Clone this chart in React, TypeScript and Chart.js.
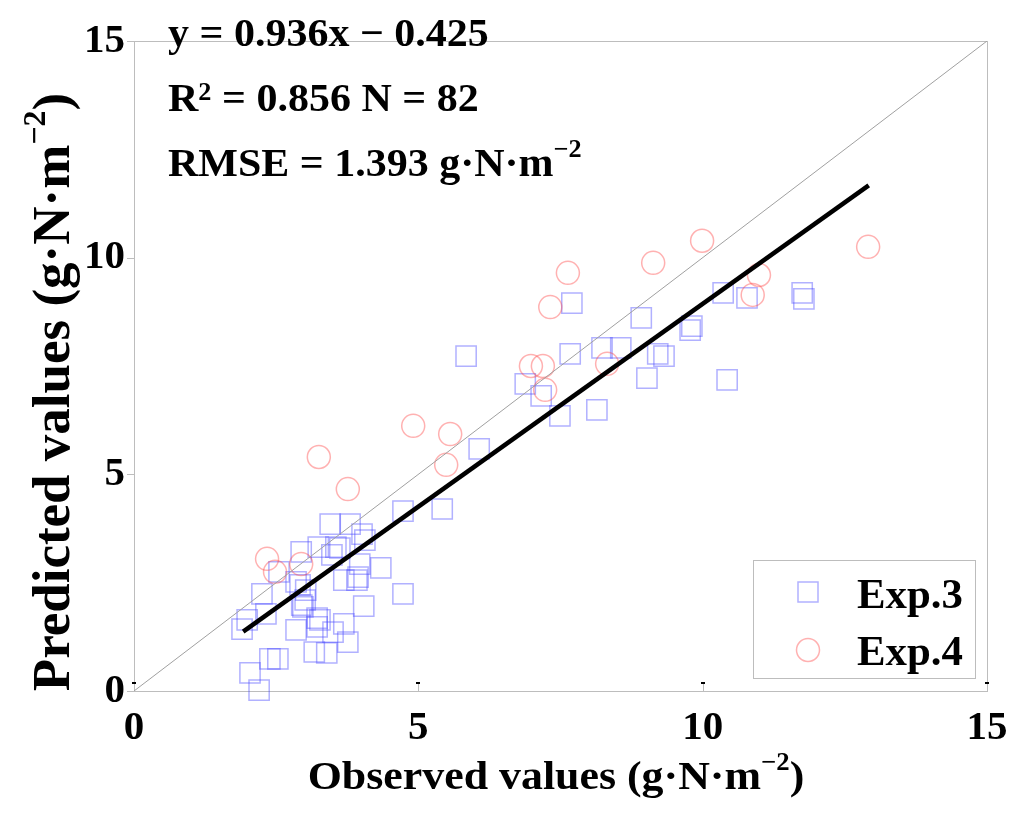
import React, { useEffect, useRef } from "react";
import { Chart, registerables } from "chart.js";

Chart.register(...registerables);

// ---- Data ----
const exp3X = [
  5.84, 7.67, 8.23, 8.56, 6.88, 7.16, 7.49, 8.14, 6.07, 5.42, 4.73, 7.70, 8.92, 10.36, 10.78, 11.75,
  11.78, 9.78, 9.81, 9.21, 9.32, 9.02, 10.43, 3.45, 3.80, 4.01, 4.06, 2.94, 3.24, 3.55, 3.48, 3.97,
  4.34, 3.69, 3.92, 3.94, 2.55, 2.92, 2.85, 3.01, 2.25, 2.32, 1.90, 1.99, 2.85, 2.97, 3.22, 3.22,
  3.50, 3.69, 3.76, 4.04, 4.73, 3.17, 3.39, 2.39, 2.53, 2.04, 2.20, 3.02, 2.95, 3.27, 3.62,
];
const exp3Y = [
  7.73, 7.78, 7.92, 7.92, 7.09, 6.81, 6.35, 6.49, 5.59, 4.20, 4.15, 8.95, 8.61, 9.19, 9.07, 9.19,
  9.05, 8.33, 8.42, 7.78, 7.73, 7.22, 7.18, 3.85, 3.85, 3.62, 3.48, 3.21, 3.32, 3.32, 3.14, 2.93,
  2.84, 2.56, 2.56, 2.63, 2.75, 2.45, 2.52, 2.10, 2.24, 1.78, 1.43, 1.64, 1.41, 1.94, 1.68, 1.48,
  1.36, 1.55, 1.13, 1.96, 2.24, 0.90, 0.88, 0.74, 0.74, 0.42, 0.02, 2.33, 1.98, 1.64, 3.30,
];
const exp4X = [
  2.34, 2.48, 2.94, 3.25, 3.76, 4.91, 5.56, 5.49, 6.98, 7.19, 7.23, 8.32, 7.63, 7.32, 9.13, 9.99,
  10.99, 10.88, 12.91,
];
const exp4Y = [
  3.05, 2.75, 2.93, 5.40, 4.66, 6.12, 5.93, 5.22, 7.50, 7.50, 6.95, 7.55, 9.65, 8.86, 9.88, 10.39,
  9.60, 9.14, 10.25,
];
const fitX = [1.92, 12.92];
const fitY = [1.37, 11.67];
const oneToOneX = [0, 15];
const oneToOneY = [0, 15];
const axisTicks = [0, 5, 10, 15];
const seriesNames = ["Exp.3", "Exp.4"];

const SERIF = '"Liberation Serif", "Times New Roman", serif';
const SQ_COLOR = "rgba(70,70,255,0.42)";
const CI_COLOR = "rgba(255,70,70,0.42)";

const toPts = (xs: number[], ys: number[]) => xs.map((x, i) => ({ x, y: ys[i] }));

type Seg = { t: string; size: number; dy?: number };

function segWidth(ctx: CanvasRenderingContext2D, segs: Seg[]) {
  let w = 0;
  for (const s of segs) {
    ctx.font = `bold ${s.size}px ${SERIF}`;
    w += ctx.measureText(s.t).width;
  }
  return w;
}

function drawSegs(ctx: CanvasRenderingContext2D, segs: Seg[], x: number, y: number, sx: number) {
  ctx.save();
  ctx.translate(x, y);
  ctx.scale(sx, 1);
  let cx = 0;
  for (const s of segs) {
    ctx.font = `bold ${s.size}px ${SERIF}`;
    ctx.fillText(s.t, cx, s.dy || 0);
    cx += ctx.measureText(s.t).width;
  }
  ctx.restore();
}

const overlay = {
  id: "overlay",
  beforeDatasetsDraw(chart: any) {
    const { ctx, chartArea } = chart;
    const { left, right, top, bottom } = chartArea;
    ctx.save();
    ctx.strokeStyle = "#bdbdbd";
    ctx.lineWidth = 1;
    ctx.strokeRect(left + 0.5, top + 0.5, right - left, bottom - top);
    const xs = chart.scales.x;
    const ys = chart.scales.y;
    for (const v of axisTicks) {
      const px = Math.round(xs.getPixelForValue(v)) + 0.5;
      ctx.beginPath();
      ctx.moveTo(px, bottom);
      ctx.lineTo(px, bottom - 9);
      ctx.stroke();
      const py = Math.round(ys.getPixelForValue(v)) + 0.5;
      ctx.beginPath();
      ctx.moveTo(left, py);
      ctx.lineTo(left - 7, py);
      ctx.stroke();
    }
    ctx.fillStyle = "#000";
    for (const v of axisTicks) {
      const px = Math.round(xs.getPixelForValue(v));
      ctx.fillRect(px - 2, bottom - 9, 4, 2);
    }
    ctx.restore();
  },
  afterDraw(chart: any) {
    const { ctx } = chart;
    ctx.save();
    ctx.fillStyle = "#000";
    ctx.textBaseline = "alphabetic";

    drawSegs(ctx, [{ t: "y = 0.936x \u2212 0.425", size: 40 }], 168, 46, 1.05);
    drawSegs(
      ctx,
      [
        { t: "R", size: 40 },
        { t: "2", size: 25, dy: -11 },
        { t: " = 0.856 N = 82", size: 40 },
      ],
      168,
      111,
      1.05
    );
    drawSegs(
      ctx,
      [
        { t: "RMSE = 1.393 g\u00b7N\u00b7m", size: 40 },
        { t: "\u22122", size: 25, dy: -19 },
      ],
      168,
      176,
      1.05
    );

    const xTitle: Seg[] = [
      { t: "Observed values (g\u00b7N\u00b7m", size: 41 },
      { t: "\u22122", size: 25, dy: -19 },
      { t: ")", size: 41 },
    ];
    const xsx = 1.07;
    const xw = segWidth(ctx, xTitle) * xsx;
    drawSegs(ctx, xTitle, 556 - xw / 2, 789, xsx);

    const yTitle: Seg[] = [
      { t: "Predicted values (g\u00b7N\u00b7m", size: 53 },
      { t: "\u22122", size: 32, dy: -24 },
      { t: ")", size: 53 },
    ];
    const yw = segWidth(ctx, yTitle);
    ctx.save();
    ctx.translate(69, 392);
    ctx.rotate(-Math.PI / 2);
    drawSegs(ctx, yTitle, -yw / 2, 0, 1);
    ctx.restore();

    ctx.strokeStyle = "#bdbdbd";
    ctx.lineWidth = 1;
    ctx.strokeRect(753.5, 560.5, 222, 118);
    ctx.strokeStyle = SQ_COLOR;
    ctx.lineWidth = 1.5;
    ctx.strokeRect(798, 582, 20, 20);
    ctx.strokeStyle = CI_COLOR;
    ctx.beginPath();
    ctx.arc(808, 650, 11.5, 0, Math.PI * 2);
    ctx.stroke();
    ctx.fillStyle = "#000";
    drawSegs(ctx, [{ t: seriesNames[0], size: 42 }], 857, 608, 1.02);
    drawSegs(ctx, [{ t: seriesNames[1], size: 42 }], 857, 665, 1.02);

    ctx.restore();
  },
};

export default function App() {
  const ref = useRef<HTMLCanvasElement | null>(null);

  useEffect(() => {
    if (!ref.current) return;
    const chart = new Chart(ref.current, {
      type: "scatter",
      data: {
        datasets: [
          {
            label: "fit",
            data: toPts(fitX, fitY),
            showLine: true,
            borderColor: "#000",
            borderWidth: 4.5,
            pointRadius: 0,
            pointHoverRadius: 0,
            order: 0,
          },
          {
            label: "1:1",
            data: toPts(oneToOneX, oneToOneY),
            showLine: true,
            borderColor: "#a0a0a0",
            borderWidth: 1,
            pointRadius: 0,
            pointHoverRadius: 0,
            order: 1,
          },
          {
            label: seriesNames[1],
            data: toPts(exp4X, exp4Y),
            pointStyle: "circle",
            pointRadius: 11.5,
            pointHoverRadius: 11.5,
            borderColor: CI_COLOR,
            backgroundColor: "rgba(0,0,0,0)",
            borderWidth: 1.5,
            order: 2,
            clip: false,
          },
          {
            label: seriesNames[0],
            data: toPts(exp3X, exp3Y),
            pointStyle: "rect",
            pointRadius: 14.3,
            pointHoverRadius: 14.3,
            borderColor: SQ_COLOR,
            backgroundColor: "rgba(0,0,0,0)",
            borderWidth: 1.5,
            order: 3,
            clip: false,
          },
        ] as any,
      },
      options: {
        animation: false,
        responsive: false,
        devicePixelRatio: 1,
        events: [],
        layout: { padding: { top: 41, right: 37, left: 0, bottom: 0 } },
        plugins: { legend: { display: false }, tooltip: { enabled: false } },
        scales: {
          x: {
            type: "linear",
            min: 0,
            max: 15,
            ticks: {
              stepSize: 5,
              color: "#000",
              padding: 13,
              font: { family: SERIF, size: 41, weight: "bold" },
            },
            grid: { display: false, drawTicks: false },
            border: { display: false },
            afterFit: (s: any) => {
              s.height = 132;
            },
          },
          y: {
            type: "linear",
            min: 0,
            max: 15,
            ticks: {
              stepSize: 5,
              color: "#000",
              padding: 9,
              font: { family: SERIF, size: 41, weight: "bold" },
            },
            grid: { display: false, drawTicks: false },
            border: { display: false },
            afterFit: (s: any) => {
              s.width = 134;
            },
          },
        },
      } as any,
      plugins: [overlay],
    });
    return () => chart.destroy();
  }, []);

  return (
    <div style={{ position: "absolute", left: 0, top: 0, width: 1024, height: 823, background: "#fff" }}>
      <canvas ref={ref} width={1024} height={823} style={{ width: 1024, height: 823 }} />
    </div>
  );
}
